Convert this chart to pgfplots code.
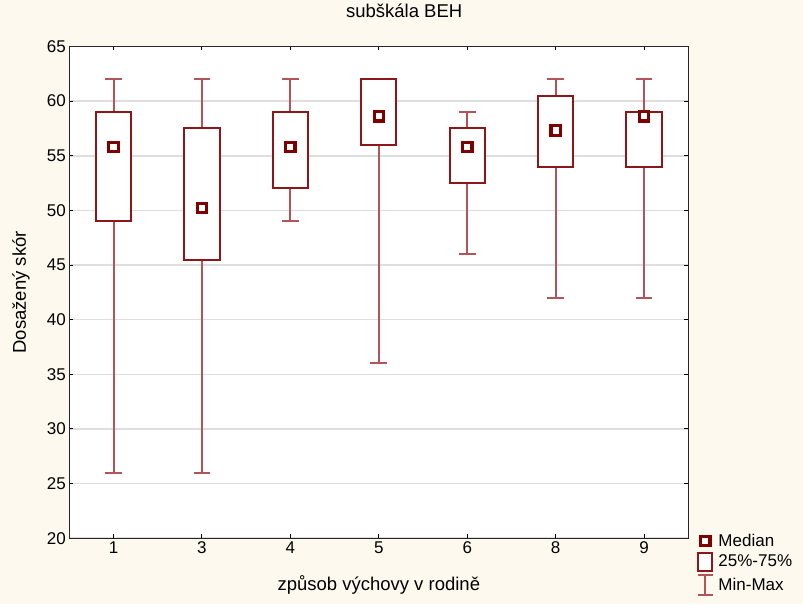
\documentclass[border=0pt]{standalone}
\usepackage{fontspec}
\setmainfont{Liberation Sans}
\usepackage{pgfplots}
\pgfplotsset{compat=1.18}
\usepgfplotslibrary{statistics}
\definecolor{bg}{RGB}{253,249,238}
\definecolor{boxred}{RGB}{140,22,26}
\definecolor{whred}{RGB}{178,85,90}
\definecolor{medred}{RGB}{128,0,0}
\definecolor{gridgray}{RGB}{222,222,222}
\newcommand{\fs}{\fontsize{17pt}{20pt}\selectfont}
\newcommand{\fl}{\fontsize{18.5pt}{22pt}\selectfont}
\begin{document}
\begin{tikzpicture}
\useasboundingbox (-69.3pt,-65.7pt) rectangle (733.7pt,538.3pt);
\fill[bg] (-69.3pt,-65.7pt) rectangle (733.7pt,538.3pt);
\begin{axis}[
  at={(0pt,0pt)}, anchor=south west,
  scale only axis, width=619pt, height=491.9pt,
  xmin=-0.5, xmax=6.5, ymin=20, ymax=65,
  xtick={0,...,6}, xticklabels={1,3,4,5,6,8,9},
  ytick={20,25,...,65},
  tick align=inside, major tick length=4pt,
  tick style={black, line width=1pt},
  axis line style={black!85, line width=1.3pt},
  axis background/.style={fill=white},
  ymajorgrids, major grid style={gridgray, line width=1.6pt},
  /pgf/number format/assume math mode=true,
  tick label style={font=\fs},
  title={subškála BEH},
  title style={font=\fl, at={(axis description cs:0.541,1.06)}, anchor=center},
  xlabel={způsob výchovy v rodině},
  xlabel style={font=\fl, at={(axis description cs:0.5,-0.095)}, anchor=center},
  ylabel={Dosažený skór},
  ylabel style={font=\fl, at={(axis description cs:-0.078,0.5)}, anchor=center, rotate=0},
  boxplot/draw direction=y,
  boxplot/box extend=0.4,
  boxplot/whisker extend=0.19,
  boxplot/every box/.style={draw=boxred, line width=2pt, fill=white},
  boxplot/every whisker/.style={draw=whred, line width=2pt},
  boxplot/every median/.style={draw=none},
  legend style={draw=none, fill=none, font=\fs, at={(axis description cs:1.014,0.013)}, anchor=north west, inner sep=0pt, outer sep=0pt, row sep=2pt, /tikz/every even column/.append style={column sep=5pt}},
  legend cell align=left,
]
\addlegendimage{legend image code/.code={\draw[medred, line width=3.2pt, fill=white] (3.6pt,-4.7pt) rectangle (13pt,4.7pt);}}
\addlegendentry{\hspace{2.5pt}Median}
\addlegendimage{legend image code/.code={\draw[boxred, line width=2pt, fill=white] (1pt,-9pt) rectangle (15pt,9pt);}}
\addlegendentry{\hspace{2.5pt}25\%-75\%}
\addlegendimage{legend image code/.code={\draw[whred, line width=2pt] (1pt,-10pt) -- (16pt,-10pt) (8.5pt,-10pt) -- (8.5pt,10pt) (1pt,10pt) -- (16pt,10pt);}}
\addlegendentry{\hspace{2.5pt}Min-Max}

\addplot[boxplot prepared={draw position=0, lower whisker=26, lower quartile=49, median=55.8, upper quartile=59, upper whisker=62}] coordinates {};
\addplot[boxplot prepared={draw position=1, lower whisker=26, lower quartile=45.5, median=50.2, upper quartile=57.5, upper whisker=62}] coordinates {};
\addplot[boxplot prepared={draw position=2, lower whisker=49, lower quartile=52, median=55.8, upper quartile=59, upper whisker=62}] coordinates {};
\addplot[boxplot prepared={draw position=3, lower whisker=36, lower quartile=56, median=58.6, upper quartile=62, upper whisker=62}] coordinates {};
\addplot[boxplot prepared={draw position=4, lower whisker=46, lower quartile=52.5, median=55.8, upper quartile=57.5, upper whisker=59}] coordinates {};
\addplot[boxplot prepared={draw position=5, lower whisker=42, lower quartile=54, median=57.3, upper quartile=60.5, upper whisker=62}] coordinates {};
\addplot[boxplot prepared={draw position=6, lower whisker=42, lower quartile=54, median=58.6, upper quartile=59, upper whisker=62}] coordinates {};

\addplot[only marks, mark=square*, mark size=4.7pt, mark options={draw=medred, fill=white, line width=3.2pt}] coordinates {(0,55.8) (1,50.2) (2,55.8) (3,58.6) (4,55.8) (5,57.3) (6,58.6)};
\end{axis}
\end{tikzpicture}
\end{document}
